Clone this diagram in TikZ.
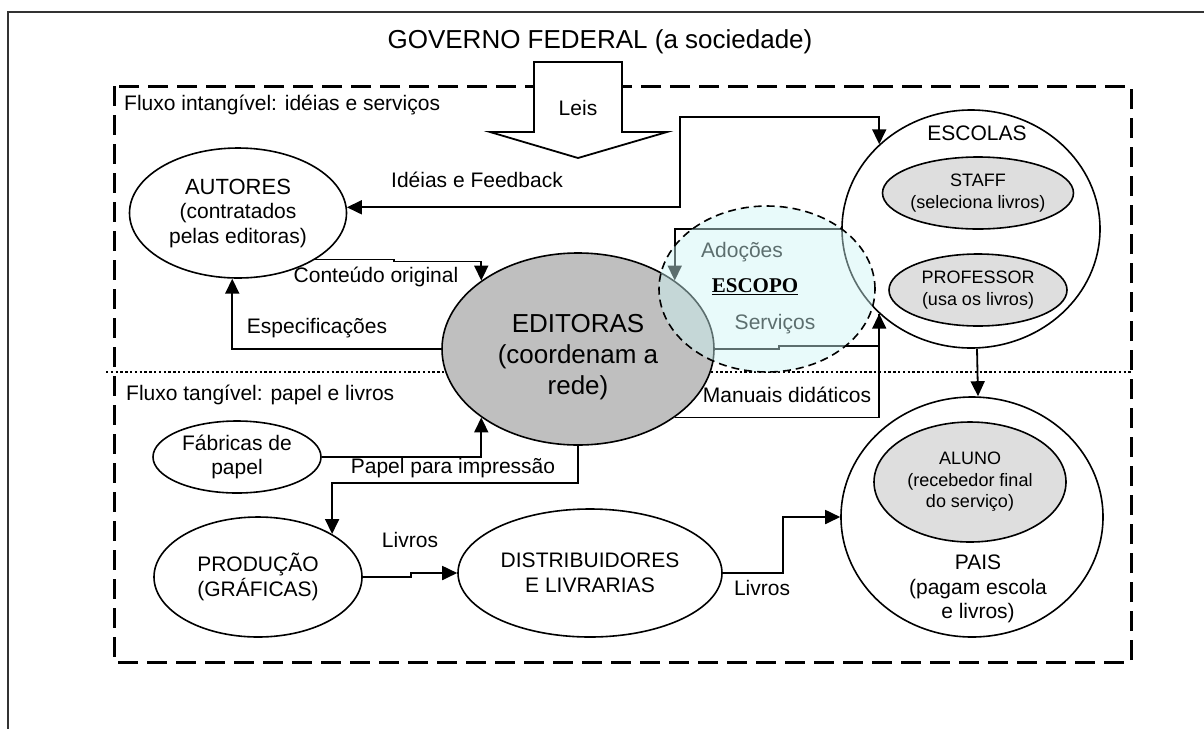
\documentclass[tikz,border=0pt]{standalone}
\usepackage{fontspec}
\setmainfont{Liberation Sans}
\newfontfamily\timesfont{Liberation Serif}
\usetikzlibrary{shapes,arrows.meta,positioning}
\definecolor{scopecol}{RGB}{205,245,245}

\begin{document}
\begin{tikzpicture}[x=1pt,y=-1pt,
    >={Triangle[length=15pt,width=14pt]},
    ell/.style={ellipse, draw, line width=1.6pt, inner sep=0pt, align=center,
        font=\fontsize{21}{24.5}\selectfont},
    grey/.style={ell, fill=black!13, font=\fontsize{18}{21.5}\selectfont},
    txt/.style={inner sep=0pt, align=center, font=\fontsize{21}{24.5}\selectfont},
    con/.style={line width=1.8pt}]
\useasboundingbox (0,0) rectangle (1204,729);

% frame, limits of the chain
\draw[line width=1.3pt, black!80] (1204,12) -- (8,12) -- (8,729);
\draw[line width=3pt, dash pattern=on 20pt off 9pt] (114,86) rectangle (1131,662);
\draw[line width=2.4pt, dash pattern=on 2.4pt off 2.4pt] (106,372) -- (1131,372);
\node[txt, font=\fontsize{26}{30}\selectfont] (gov) at (600,42) {GOVERNO FEDERAL (a sociedade)};
\draw[con, fill=white] (534,62) -- (622,62) -- (622,132) -- (667,132) -- (578,158)
    -- (490,132) -- (534,132) -- cycle;
\node[txt] (leis) at (578,108) {Leis};
\node[txt, anchor=west] (intang) at (124,105) {Fluxo intangível: idéias e serviços};
\node[txt, anchor=west] (tang) at (126,395) {Fluxo tangível: papel e livros};

% actors
\draw (238,213) node[ell, minimum width=217pt, minimum height=130pt] (aut) {{\fontsize{22}{25}\selectfont AUTORES}\\(contratados\\pelas editoras)};
\draw (578,349) node[ell, fill=black!25, minimum width=272pt, minimum height=192pt] (edit) {};
\node[txt, font=\fontsize{26}{31}\selectfont] (edittxt) at (578,357) {EDITORAS\\(coordenam a\\rede)};
\draw (971,229) node[ell, minimum width=258pt, minimum height=238pt] (esc) {};
\node[txt] (esctxt) at (977,133) {ESCOLAS};
\draw (978,193) node[grey, minimum width=178pt, minimum height=72pt] (staff) {STAFF\\(seleciona livros)};
\draw (978,290) node[grey, minimum width=178pt, minimum height=72pt] (prof) {PROFESSOR\\(usa os livros)};
\draw (237,457) node[ell, minimum width=168pt, minimum height=72pt] (fab) {Fábricas de\\papel};
\draw (258,577) node[ell, minimum width=208pt, minimum height=120pt] (prod) {PRODUÇÃO\\(GRÁFICAS)};
\draw (590,573) node[ell, minimum width=264pt, minimum height=128pt] (dist) {DISTRIBUIDORES\\E LIVRARIAS};
\draw (972,517) node[ell, minimum width=262pt, minimum height=240pt] (pais) {};
\node[txt] (paistxt) at (978,589) {PAIS\\(pagam escola\\e livros)};
\draw (970,482) node[grey, minimum width=192pt, minimum height=120pt] (aluno) {ALUNO\\(recebedor final\\do serviço)};

% flows
\draw[con,<->] (aut.3) -| (680,117) -| (esc.north west);
\draw[con,->] (aut.south east) -- ++(79,0) -- ++(0,2) -| (edit.north west);
\draw[con,->] (edit.west) -| (aut.265);
\draw[con,->] (esc.west) -| (edit.north east);
\draw[con] (edit.east) -- ++(64,0) -- ++(0,-3) -| (esc.south west);
\draw[con,->] (edit.south east) -| (esc.south west);
\draw[con,->] ([xshift=6pt]esc.south) -- ([xshift=6pt]pais.north);
\draw[con,->] (fab.east) -| (edit.south west);
\draw[con,->] (edit.south) -- ++(0,37) -| (prod.north east);
\draw[con,->] (prod.east) -- ++(48,0) -- ++(0,-4) -- (dist.west);
\draw[con,->] (dist.east) -- ++(60,0) |- (pais.west);

\node[txt] (l1) at (477,180) {Idéias e Feedback};
\node[txt] (l2) at (376,277) {Conteúdo original};
\node[txt] (l3) at (317,328) {Especificações};
\node[txt] (l4) at (742,252) {Adoções};
\node[txt] (l5) at (775,324) {Serviços};
\node[txt] (l6) at (787,395) {Manuais didáticos};
\node[txt] (l7) at (453,468) {Papel para impressão};
\node[txt] (l8) at (410,540) {Livros};
\node[txt] (l9) at (762,588) {Livros};

% scope of the study
\draw (767,289) node[ellipse, draw, line width=1.6pt, dash pattern=on 8pt off 5pt,
    fill=scopecol, fill opacity=0.45, minimum width=216pt, minimum height=166pt] (scope) {};
\node[inner sep=0pt, font=\timesfont\bfseries\fontsize{21}{24}\selectfont] (escopo) at (755,287) {\underline{ESCOPO}};
\end{tikzpicture}
\end{document}
